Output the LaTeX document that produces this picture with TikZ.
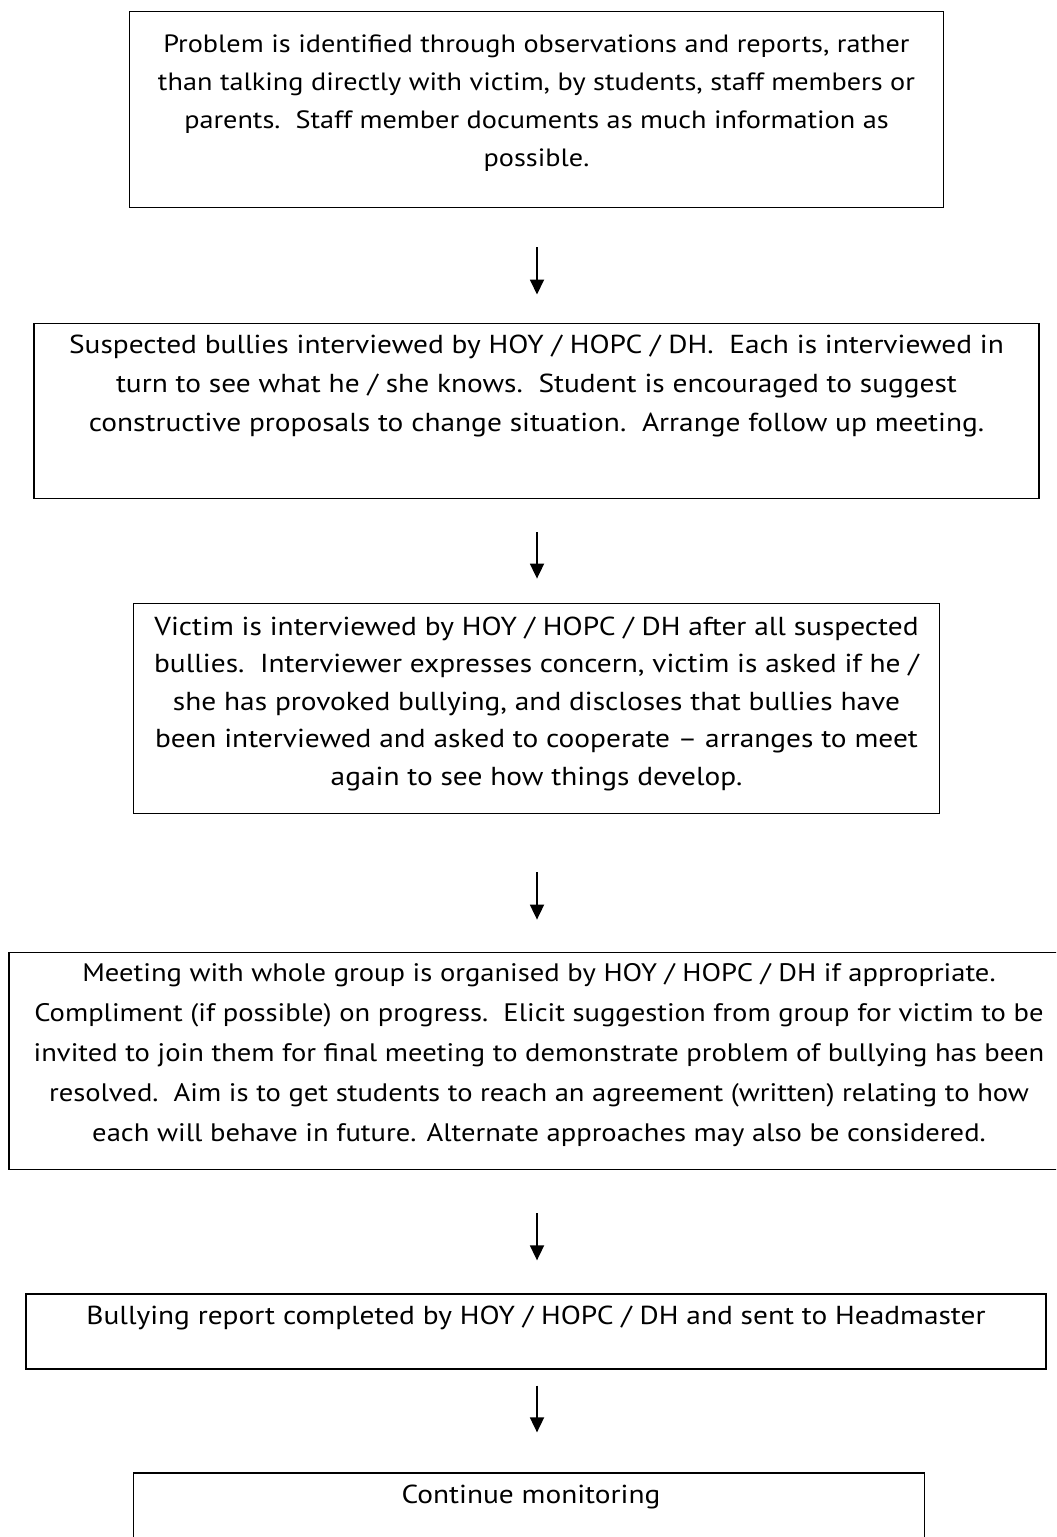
\documentclass[tikz,border=0pt]{standalone}
\usepackage{fontspec}
\setmainfont{PT Sans}[FakeStretch=1.13]
\usetikzlibrary{arrows.meta}
\begin{document}
\begin{tikzpicture}[x=1bp,y=-1bp,
  box/.style={draw=black, line width=1.6bp, inner sep=0pt},
  txt/.style={anchor=north, align=center, inner sep=0pt},
  arr/.style={line width=1.8bp, -{Triangle[length=15bp,width=14bp]}}]
\useasboundingbox (0,0) rectangle (1056,1537);
\clip (0,0) rectangle (1056,1537);
% box: name, left, right, top, bottom
\newcommand{\bx}[5]{\node[box, minimum width=#3-#2, minimum height=#5-#4] (#1) at ({(#2+#3)/2},{(#4+#5)/2}) {};}
% text: name, x, first baseline, size, pitch, text
\newcommand{\tb}[6]{\node[txt, font=\fontsize{#4bp}{#5bp}\selectfont] (#1) at (#2,{#3-0.7*#5}) {#6};}
\bx{b1}{128}{945}{11}{208}
\bx{b2}{32}{1041}{323}{499}
\bx{b3}{132}{941}{603}{814}
\bx{b4}{7}{1066}{952}{1170}
\bx{b5}{24}{1048}{1294}{1369}
\bx{b6}{132}{926}{1473}{1560}
\tb{t1}{536.5}{52}{25}{38}{\strut Problem is identified through observations and reports, rather\\\strut than talking directly with victim, by students, staff members or\\\strut parents.\ \ Staff member documents as much information as\\\strut possible.}
\tb{t2}{536.5}{353}{26}{39}{\strut Suspected bullies interviewed by HOY / HOPC / DH.\ \ Each is interviewed in\\\strut turn to see what he / she knows.\ \ Student is encouraged to suggest\\\strut constructive proposals to change situation.\ \ Arrange follow up meeting.}
\tb{t3}{536.5}{635}{26}{37.5}{\strut Victim is interviewed by HOY / HOPC / DH after all suspected\\\strut bullies.\ \ Interviewer expresses concern, victim is asked if he /\\\strut she has provoked bullying, and discloses that bullies have\\\strut been interviewed and asked to cooperate – arranges to meet\\\strut again to see how things develop.}
\tb{t4}{539}{981}{25.3}{40}{\strut Meeting with whole group is organised by HOY / HOPC / DH if appropriate.\\\strut Compliment (if possible) on progress.\ \ Elicit suggestion from group for victim to be\\\strut invited to join them for final meeting to demonstrate problem of bullying has been\\\strut resolved.\ \ Aim is to get students to reach an agreement (written) relating to how\\\strut each will behave in future. Alternate approaches may also be considered.}
\tb{t5}{536}{1324}{26}{39}{\strut Bullying report completed by HOY / HOPC / DH and sent to Headmaster}
\tb{t6}{531}{1503}{26}{39}{\strut Continue monitoring}
\draw[arr, shorten <=39bp, shorten >=28bp] (b1.south -| 537,0) -- (b2.north -| 537,0);
\draw[arr, shorten <=33bp, shorten >=24bp] (b2.south -| 537,0) -- (b3.north -| 537,0);
\draw[arr, shorten <=58bp, shorten >=32bp] (b3.south -| 537,0) -- (b4.north -| 537,0);
\draw[arr, shorten <=43bp, shorten >=33bp] (b4.south -| 537,0) -- (b5.north -| 537,0);
\draw[arr, shorten <=16bp, shorten >=40bp] (b5.south -| 537,0) -- (b6.north -| 537,0);
\end{tikzpicture}
\end{document}
